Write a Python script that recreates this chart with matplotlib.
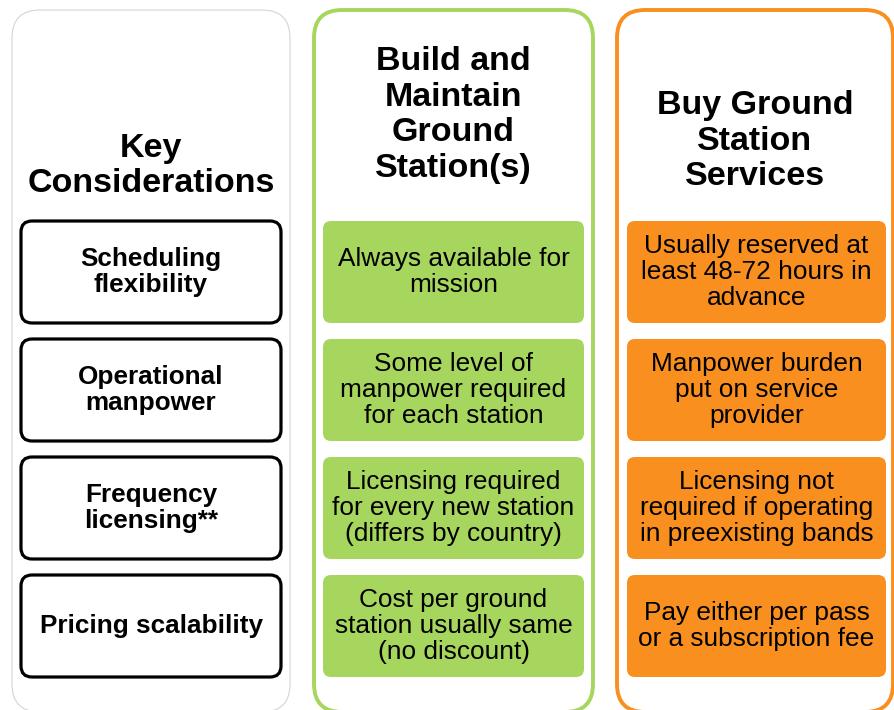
import matplotlib.pyplot as plt
from matplotlib.patches import FancyBboxPatch

# column headers
headers = ["Key\nConsiderations",
           "Build and\nMaintain\nGround\nStation(s)",
           "Buy Ground\nStation\nServices"]

considerations = ["Scheduling\nflexibility",
                  "Operational\nmanpower",
                  "Frequency\nlicensing**",
                  "Pricing scalability"]

build_texts = ["Always available for\nmission",
               "Some level of\nmanpower required\nfor each station",
               "Licensing required\nfor every new station\n(differs by country)",
               "Cost per ground\nstation usually same\n(no discount)"]

buy_texts = ["Usually reserved at\nleast 48-72 hours in\nadvance",
             "Manpower burden\nput on service\nprovider",
             "Licensing not\nrequired if operating\nin preexisting bands",
             "Pay either per pass\nor a subscription fee"]

GREEN = "#a6d65e"
ORANGE = "#f98f1f"
FONT = "Liberation Sans"

fig = plt.figure(figsize=(8.94, 7.10), dpi=100)
ax = fig.add_axes([0, 0, 1, 1])
ax.set_xlim(0, 894)
ax.set_ylim(710, 0)
ax.axis("off")


def rbox(x0, y0, x1, y1, r, fc, ec, lw):
    p = FancyBboxPatch((x0, y0), x1 - x0, y1 - y0,
                       boxstyle=f"round,pad=0,rounding_size={r}",
                       fc=fc, ec=ec, lw=lw)
    ax.add_patch(p)


# panels: (left, right, border colour, border width, header centre y)
panels = [(12, 290, "#d4d4d4", 0.8, 166),
          (314, 593, GREEN, 2.8, 115),
          (617, 893, ORANGE, 2.8, 141)]
for (x0, x1, ec, lw, hy), head in zip(panels, headers):
    rbox(x0, 10, x1, 712, 28, "white", ec, lw)
    ax.text((x0 + x1) / 2, hy, head, ha="center", va="center",
            fontsize=24.5, fontweight="bold", family=FONT, linespacing=1.2)

row_tops = [221, 339, 457, 575]
row_h = 102

for i, top in enumerate(row_tops):
    cy = top + row_h / 2
    # key consideration boxes
    rbox(21, top, 281, top + row_h, 11, "white", "black", 2.3)
    ax.text(151, cy, considerations[i], ha="center", va="center",
            fontsize=18.8, fontweight="bold", family=FONT, linespacing=1.1)
    # build column
    rbox(323, top, 584, top + row_h, 8, GREEN, "none", 0)
    ax.text(453.5, cy, build_texts[i], ha="center", va="center",
            fontsize=18.9, family=FONT, linespacing=1.12)
    # buy column
    rbox(627, top, 886, top + row_h, 8, ORANGE, "none", 0)
    ax.text(756.5, cy, buy_texts[i], ha="center", va="center",
            fontsize=18.9, family=FONT, linespacing=1.12)

fig.savefig("out.png", dpi=100)
